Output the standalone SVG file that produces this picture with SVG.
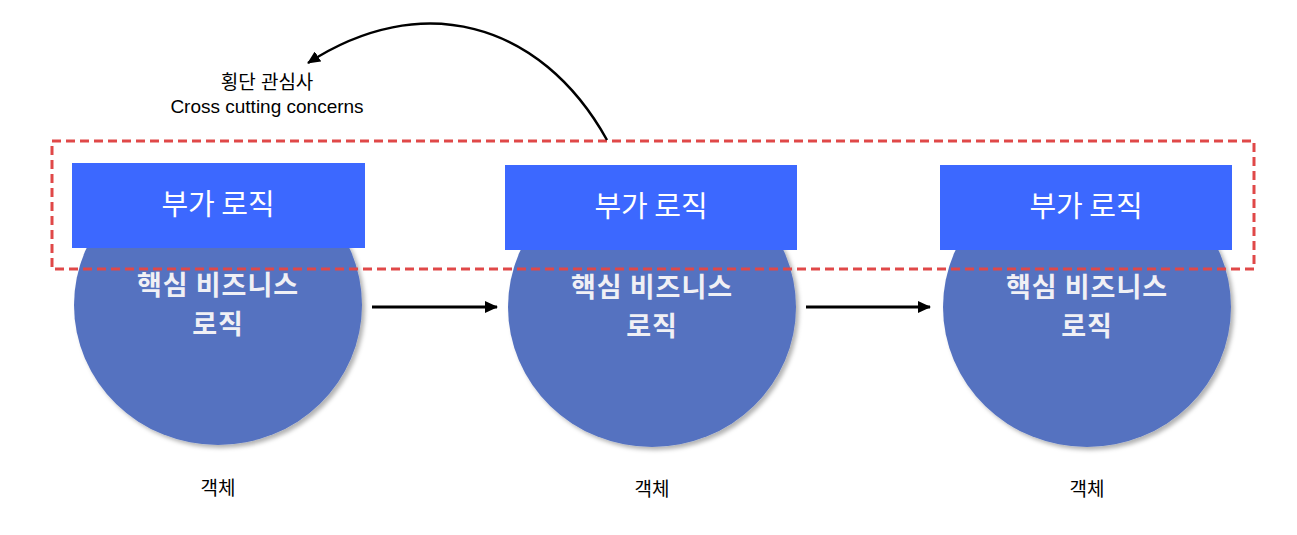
<svg xmlns="http://www.w3.org/2000/svg" width="1297" height="535" viewBox="0 0 1297 535">
<defs>
<filter id="sh" x="-20%" y="-20%" width="140%" height="140%"><feDropShadow dx="3" dy="3" stdDev="3" flood-color="#000" flood-opacity="0.3"/></filter>
<marker id="ah" markerWidth="14" markerHeight="12" refX="12" refY="6" orient="auto" markerUnits="userSpaceOnUse"><path d="M0,0 L13,6 L0,12 Z" fill="#000"/></marker>
<style>
.circ{fill:#5572C0;filter:url(#sh)}
.box{fill:#3C68FF}
.ct{font-family:"Noto Sans CJK KR","Liberation Sans",sans-serif;font-weight:bold;font-size:27px;letter-spacing:1px;fill:#F0F0F5;text-anchor:middle}
.bt{font-family:"Noto Sans CJK KR","Liberation Sans",sans-serif;font-size:29px;fill:#fff;text-anchor:middle}
.lt{font-family:"Liberation Sans","Noto Sans CJK KR",sans-serif;font-size:19px;fill:#000;text-anchor:middle}
.conn{stroke:#000;stroke-width:3;fill:none;marker-end:url(#ah)}
</style>
</defs>
<g id="obj1">
<ellipse class="circ" cx="218" cy="305" rx="144" ry="140"/>
<text class="ct" x="218" y="295">핵심 비즈니스</text>
<text class="ct" x="218" y="334">로직</text>
<rect class="box" x="72" y="163" width="293" height="85"/>
<text class="bt" x="218" y="215">부가 로직</text>
<text class="lt" x="218" y="495">객체</text>
</g>
<g id="obj2">
<ellipse class="circ" cx="652" cy="307" rx="144" ry="140"/>
<text class="ct" x="652" y="297">핵심 비즈니스</text>
<text class="ct" x="652" y="336">로직</text>
<rect class="box" x="505" y="165" width="292" height="85"/>
<text class="bt" x="651" y="217">부가 로직</text>
<text class="lt" x="652" y="496">객체</text>
</g>
<g id="obj3">
<ellipse class="circ" cx="1087" cy="307" rx="144" ry="140"/>
<text class="ct" x="1087" y="297">핵심 비즈니스</text>
<text class="ct" x="1087" y="336">로직</text>
<rect class="box" x="940" y="165" width="292" height="85"/>
<text class="bt" x="1086" y="217">부가 로직</text>
<text class="lt" x="1087" y="496">객체</text>
</g>
<g id="crosscut">
<rect x="52" y="141" width="1202" height="128" fill="none" stroke="#E04848" stroke-width="3" stroke-dasharray="9 5"/>
<text class="lt" x="267" y="89">횡단 관심사</text>
<text class="lt" x="267" y="113">Cross cutting concerns</text>
</g>
<g id="connectors">
<path class="conn" d="M372,307 L497,307"/>
<path class="conn" d="M806,307 L930,307"/>
<path class="conn" style="stroke-width:2.5" d="M607,140 C540,20 420,-10 308,63"/>
</g>
</svg>
